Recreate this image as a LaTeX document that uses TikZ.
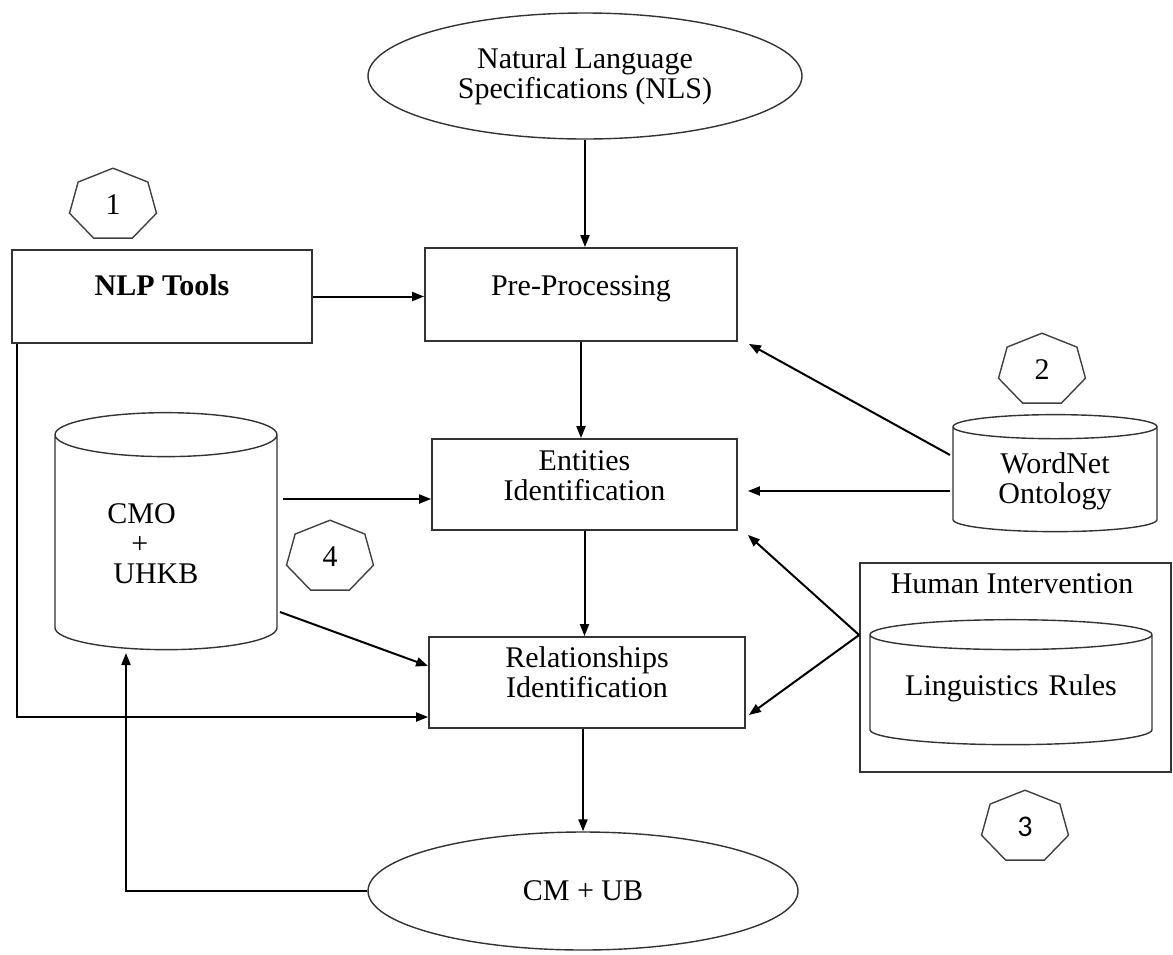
\documentclass[tikz,border=0pt]{standalone}
\usepackage{fontspec}
\setmainfont{Liberation Serif}
\newfontfamily\calfont{Carlito}
\usetikzlibrary{shapes.geometric,arrows.meta,calc}

\tikzset{
  box/.style={draw=black!80, line width=0.9pt, align=center, inner sep=0pt},
  oval/.style={ellipse, draw=black!80, line width=0.7pt, align=center, inner sep=0pt},
  drum/.style={cylinder, shape border rotate=90, draw=black!80, line width=0.7pt, align=center, inner sep=0pt},
  hept/.style={draw=black!75, line width=0.7pt},
  arr/.style={-{Triangle[length=6pt,width=4.5pt]}, line width=1pt},
}

\begin{document}
\fontsize{15pt}{15pt}\selectfont
\begin{tikzpicture}[x=0.5pt, y=-0.5pt]
  \useasboundingbox (0,0) rectangle (1173,954);

  % input and output
  \node[oval, minimum width=217pt, minimum height=63pt] (nls) at (585,76) {Natural Language\\Specifications (NLS)};
  \node[oval, minimum width=215pt, minimum height=59pt] (cmub) at (583,891) {CM + UB};

  % steps
  \node[box, minimum width=150pt, minimum height=46.5pt, text height=10pt, text depth=11pt, font=\bfseries] (nlp) at (162,296.5) {NLP Tools};
  \node[box, minimum width=156pt, minimum height=46.5pt, text height=10pt, text depth=9pt] (pre) at (581,294.5) {Pre-Processing};
  \node[box, minimum width=152.5pt, minimum height=45.5pt, text height=25pt, text depth=9.5pt] (ent) at (584.5,484.5) {Entities\\Identification};
  \node[box, minimum width=158pt, minimum height=45.5pt, text height=25pt, text depth=10.5pt] (rel) at (587,682.5) {Relationships\\Identification};

  % knowledge stores
  \node[drum, aspect=0.198, text width=111pt, minimum height=118.5pt] (cmo) at (166,542.5) {};
  \node[align=left, anchor=north west, inner sep=0pt] (cmotxt) at (107,503) {CMO\\\hspace*{12pt}+\\\hspace*{3pt}UHKB};
  \node[drum, aspect=0.118, text width=102pt, minimum height=58.5pt, text height=12pt, text depth=18.5pt] (wn) at (1055,479.5) {WordNet\\Ontology};
  \node[box, minimum width=155.5pt, minimum height=104.5pt] (hum) at (1015.5,667.5) {};
  \node[anchor=base, inner sep=0pt] (humtxt) at (1012,593) {Human Intervention};
  \node[drum, aspect=0.106, text width=141pt, minimum height=62.5pt, text height=8.5pt, text depth=3.5pt] (lr) at (1011,690) {Linguistics Rules};

  % step numbers
  \foreach \hx/\hy in {113/205, 1042/370, 1025/827, 330/557}
    \draw[hept] (\hx,\hy) +(270:44.6 and 36.8)
      \foreach \k in {1,...,6} { -- +({270+\k*360/7}:44.6 and 36.8) } -- cycle;
  \node (num1) at (113,205) {1};
  \node (num2) at (1042,370) {2};
  \node[font=\calfont] (num3) at (1025,827) {3};
  \node (num4) at (330,557) {4};

  % main flow
  \draw[arr] (nls.south) -- (nls.south |- pre.north);
  \draw[arr] (pre.south) -- (pre.south |- ent.north);
  \draw[arr] (ent.south) -- (ent.south |- rel.north);
  \draw[arr] (cmub.north |- rel.south) -- (cmub.north);

  % tools and stores
  \draw[arr] (nlp.east) -- (nlp.east -| pre.west);
  \draw[arr] ($(nlp.south west)+(6,0)$) |- ($(rel.west)+(0,34.5)$);
  \draw[arr] ($(cmo.center)+(117,-43.5)$) -- ($(ent.west)+(0,14.5)$);
  \draw[arr] ($(cmo.center)+(114,69.5)$) -- ($(rel.west)+(0,-16.5)$);
  \draw[arr] (cmub.west) -| ($(cmo.center)+(-40,110.5)$);
  \draw[arr] ($(wn.center)+(-105,-24.5)$) -- ($(pre.south east)+(11,2)$);
  \draw[arr] ($(wn.center)+(-105,11.5)$) -- ($(ent.east)+(10,6.5)$);
  \draw[arr] ($(hum.west)+(0,-32.5)$) -- ($(ent.south east)+(10,4)$);
  \draw[arr] ($(hum.west)+(0,-32.5)$) -- ($(rel.east)+(3,32.5)$);
\end{tikzpicture}
\end{document}
